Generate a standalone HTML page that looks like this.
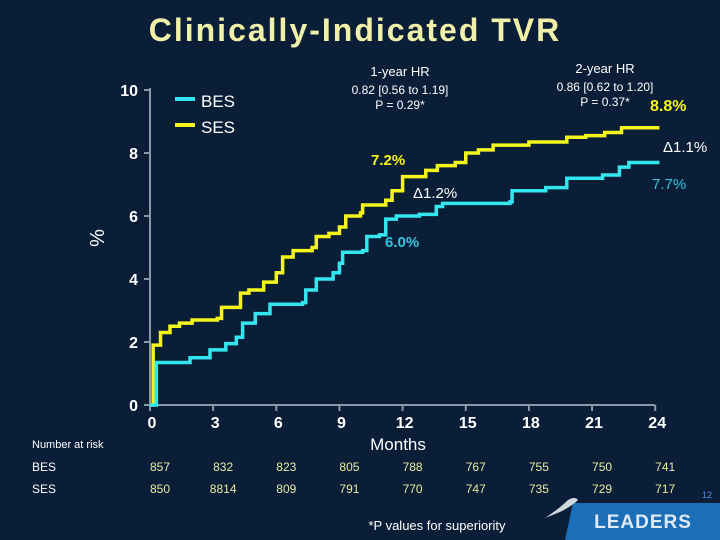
<!DOCTYPE html>
<html><head><meta charset="utf-8"><style>
body{margin:0;background:#0b1e38;}
svg{display:block;font-family:"Liberation Sans",Arial,sans-serif;}
</style></head><body>
<svg width="720" height="540" viewBox="0 0 720 540">
<rect x="0" y="0" width="720" height="540" fill="#0b1e38"/>
<text x="355" y="41" text-anchor="middle" font-size="32" font-weight="bold" letter-spacing="2" fill="#f0f0a8">Clinically-Indicated TVR</text>
<g id="axes"></g>
<g id="series"></g>
<text x="104" y="238" font-size="20" fill="#fff" transform="rotate(-90 104 238)" text-anchor="middle">%</text>
<text x="398" y="450" font-size="17" fill="#fff" text-anchor="middle">Months</text>
<g>
<rect x="175" y="97" width="20" height="4" fill="#33e6f0"/>
<text x="201" y="107" font-size="17" fill="#fff">BES</text>
<rect x="175" y="123" width="20" height="4" fill="#f5f51e"/>
<text x="201" y="133" font-size="17" fill="#fff">SES</text>
</g>
<g font-size="13" fill="#fff" text-anchor="middle">
<text x="400" y="76">1-year HR</text>
<text x="400" y="94" font-size="12">0.82 [0.56 to 1.19]</text>
<text x="400" y="109" font-size="12">P = 0.29*</text>
<text x="605" y="73">2-year HR</text>
<text x="605" y="91" font-size="12">0.86 [0.62 to 1.20]</text>
<text x="605" y="106" font-size="12">P = 0.37*</text>
</g>
<text x="650" y="111" font-size="16" font-weight="bold" fill="#f5f51e">8.8%</text>
<text x="663" y="152" font-size="15" fill="#fff">Δ1.1%</text>
<text x="652" y="189" font-size="15" fill="#33c6e0">7.7%</text>
<text x="371" y="165" font-size="15" font-weight="bold" fill="#f5f51e">7.2%</text>
<text x="413" y="198" font-size="15" fill="#fff">Δ1.2%</text>
<text x="385" y="247" font-size="15" font-weight="bold" fill="#33c6e0">6.0%</text>
<g id="risk" font-size="12">
<text x="32" y="448" font-size="11" fill="#fff">Number at risk</text>
<text x="32" y="471" fill="#fff">BES</text>
<text x="32" y="493" fill="#fff">SES</text>
</g>
<text x="437" y="530" font-size="13" fill="#fff" text-anchor="middle">*P values for superiority</text>
<text x="707" y="498" font-size="9" fill="#4a8ee0" text-anchor="middle">12</text>
<g>
<polygon points="573,503 720,503 720,540 565,540" fill="#1a6fb8"/>
<text x="643" y="528" font-size="19" font-weight="bold" fill="#dfeaf5" text-anchor="middle" letter-spacing="1">LEADERS</text>
<path d="M545,518 Q560,508 568,500 Q575,496 578,500 Q572,506 560,512 Z" fill="#cfd6de"/>
</g>
</svg>
<script>
const xTicks=[0,3,6,9,12,15,18,21,24];
const yTicks=[0,2,4,6,8,10];
const besMonths=[0,0.3,1.75,1.9,2.85,3.6,4.1,4.4,5.0,5.7,7.25,7.4,7.9,8.7,9.0,9.15,10.1,10.3,10.9,11.2,11.7,12.8,13.6,13.9,17.1,17.2,18.8,19.8,21.5,22.3,22.75,24.2];
const besValues=[0,1.35,1.35,1.5,1.75,1.95,2.15,2.6,2.9,3.2,3.25,3.65,4.0,4.2,4.5,4.85,4.9,5.35,5.4,5.9,6.0,6.05,6.3,6.4,6.45,6.8,6.9,7.2,7.3,7.55,7.7,7.7];
const sesMonths=[0,0.15,0.5,0.95,1.4,2.0,3.2,3.4,4.1,4.3,4.7,5.4,6.0,6.3,6.8,7.7,7.9,8.5,9.0,9.3,10.0,10.1,11.2,11.5,12.0,12.8,13.1,13.65,14.5,15.0,15.6,16.3,18.0,19.8,20.7,21.6,22.4,24.2];
const sesValues=[0,1.9,2.3,2.5,2.6,2.7,2.75,3.1,3.1,3.55,3.65,3.9,4.2,4.7,4.9,5.0,5.35,5.45,5.65,6.0,6.1,6.35,6.5,6.8,7.25,7.25,7.45,7.6,7.7,8.0,8.1,8.25,8.35,8.5,8.55,8.65,8.8,8.8];
const riskBES=[857,832,823,805,788,767,755,750,741];
const riskSES=[850,8814,809,791,770,747,735,729,717];
const NS='http://www.w3.org/2000/svg';
const X=m=>150+m*21.05;
const Y=v=>405-v*31.5;
function mk(t,a,p){const e=document.createElementNS(NS,t);for(const k in a)e.setAttribute(k,a[k]);p.appendChild(e);return e;}
const ax=document.getElementById('axes');
let l=mk('line',{x1:150,y1:Y(10)-2,x2:150,y2:405,stroke:'#8a98a8','stroke-width':2},ax);


l=mk('line',{x1:150,y1:405,x2:X(24),y2:405,stroke:'#8a98a8','stroke-width':2},ax);


yTicks.forEach(v=>{
 mk('line',{x1:144,y1:Y(v),x2:150,y2:Y(v),stroke:'#8a98a8','stroke-width':2},ax);
 const t=mk('text',{x:138,y:Y(v)+6,'font-size':16,'font-weight':'bold',fill:'#fff','text-anchor':'end'},ax);t.textContent=v;
 
 
});
xTicks.forEach(m=>{
 mk('line',{x1:X(m),y1:405,x2:X(m),y2:411,stroke:'#8a98a8','stroke-width':2},ax);
 const t=mk('text',{x:X(m)+2,y:428,'font-size':16,'font-weight':'bold',fill:'#fff','text-anchor':'middle'},ax);t.textContent=m;
 
 
});
const sg=document.getElementById('series');
function step(ms,vs,col,name){
 let d='M'+X(ms[0])+','+Y(vs[0]);
 for(let i=1;i<ms.length;i++){d+=' L'+X(ms[i])+','+Y(vs[i-1])+' L'+X(ms[i])+','+Y(vs[i]);}
 const p=mk('path',{d:d,fill:'none',stroke:col,'stroke-width':3.5,'stroke-linejoin':'miter'},sg);
 
 
}
step(sesMonths,sesValues,'#f5f51e','ses-curve');
step(besMonths,besValues,'#33e6f0','bes-curve');
const rk=document.getElementById('risk');
xTicks.forEach((m,i)=>{
 let t=mk('text',{x:X(m)+10,y:471,fill:'#e8eca0','text-anchor':'middle'},rk);t.textContent=riskBES[i];
 
 
 t=mk('text',{x:X(m)+10,y:493,fill:'#e8eca0','text-anchor':'middle'},rk);t.textContent=riskSES[i];
 
 
});
</script>
</body></html>
